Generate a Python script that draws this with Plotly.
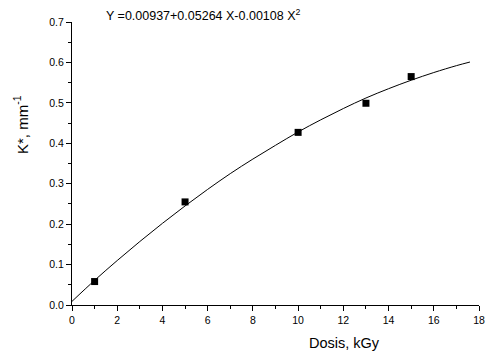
import plotly.graph_objects as go

dose = [1, 5, 10, 13, 15]
kstar = [0.058, 0.255, 0.427, 0.499, 0.565]

fit_x = [0, 1, 2, 3, 4, 5, 6, 7, 8, 9, 10, 11, 12, 13, 14, 15, 16, 17, 17.6]
fit_y = [0.009, 0.061, 0.110, 0.157, 0.202, 0.245, 0.286, 0.325, 0.361, 0.395,
         0.428, 0.458, 0.486, 0.512, 0.535, 0.556, 0.575, 0.592, 0.601]

font = "Liberation Sans, Arial, sans-serif"

# page body has an 8px default margin; compensate so the plot sits where the reference has it
OFF = 8
W, H = 493 - OFF, 356 - OFF
L, R, T, B = 72 - OFF, 8, 20 - OFF, 51
PW = W - L - R
PH = H - T - B


def px(xp):
    return (xp - 72) / PW


def py(yp):
    return (305 - yp) / PH


fig = go.Figure()
fig.add_trace(go.Scatter(x=fit_x, y=fit_y, mode="lines", line=dict(color="black", width=1, shape="spline"),
                         showlegend=False, hoverinfo="skip"))
fig.add_trace(go.Scatter(x=dose, y=kstar, mode="markers",
                         marker=dict(symbol="square", size=7, color="black"), showlegend=False))

axis_common = dict(showgrid=False, zeroline=False, showline=True, linecolor="black", linewidth=1,
                   ticks="outside", ticklen=5, tickwidth=1, tickcolor="black",
                   tickfont=dict(family=font, size=10.5, color="black"))

fig.update_xaxes(range=[0, 18], dtick=2, tick0=0,
                 minor=dict(dtick=1, ticks="outside", ticklen=3, tickcolor="black"), **axis_common)
fig.update_yaxes(range=[0, 0.7], dtick=0.1, tick0=0, tickformat=".1f",
                 minor=dict(dtick=0.05, ticks="outside", ticklen=3, tickcolor="black"), **axis_common)

fig.add_annotation(text="Y =0.00937+0.05264 X-0.00108 X<sup>2</sup>", xref="paper", yref="paper",
                   x=px(104), y=py(13), xanchor="left", yanchor="middle",
                   showarrow=False, font=dict(family=font, size=12.5, color="black"))
fig.add_annotation(text="Dosis, kGy", xref="paper", yref="paper",
                   x=px(349), y=py(343), xanchor="center", yanchor="middle",
                   showarrow=False, font=dict(family=font, size=14.5, color="black"))
fig.add_annotation(text="K*, mm<sup>-1</sup>", xref="paper", yref="paper",
                   x=px(20), y=py(123), xanchor="center", yanchor="middle",
                   textangle=-90, showarrow=False, font=dict(family=font, size=15, color="black"))

fig.update_layout(width=W, height=H, autosize=False,
                  margin=dict(l=L, r=R, t=T, b=B),
                  plot_bgcolor="white", paper_bgcolor="white")

fig.write_html("out.html")
